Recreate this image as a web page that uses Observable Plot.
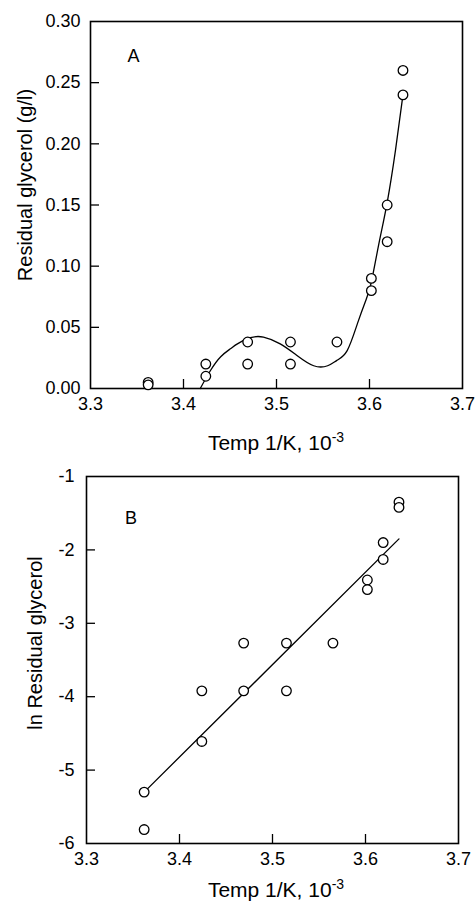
<!DOCTYPE html>
<html>
<head>
<meta charset="utf-8">
<script src="https://cdn.jsdelivr.net/npm/d3@7"></script>
<script src="https://cdn.jsdelivr.net/npm/@observablehq/plot@0.6"></script>
<style>
  html, body { margin: 0; padding: 0; background: #fff; }
  #wrap { position: relative; width: 476px; height: 911px; overflow: hidden; }
</style>
</head>
<body>
<div id="wrap"></div>
<script>
// ---- Data ----
const tempX = [3.362, 3.362, 3.424, 3.424, 3.469, 3.469, 3.515, 3.515, 3.565, 3.602, 3.602, 3.619, 3.619, 3.636, 3.636];
const glycerolA = [0.005, 0.003, 0.020, 0.010, 0.038, 0.020, 0.038, 0.020, 0.038, 0.090, 0.080, 0.150, 0.120, 0.260, 0.240];
const lnGlycerolB = [-5.30, -5.81, -3.92, -4.61, -3.27, -3.92, -3.27, -3.92, -3.27, -2.41, -2.54, -1.90, -2.13, -1.35, -1.42];

// fitted curve in panel A (sampled from the drawn curve)
const fitAX = [3.418, 3.429, 3.440, 3.4505, 3.458, 3.472, 3.486, 3.504, 3.522, 3.540, 3.555, 3.565, 3.576, 3.587, 3.596, 3.602, 3.610, 3.619, 3.628, 3.636];
const fitAY = [0.000, 0.0147, 0.026, 0.0325, 0.0365, 0.0415, 0.042, 0.0365, 0.027, 0.0186, 0.0186, 0.023, 0.031, 0.053, 0.072, 0.087, 0.118, 0.152, 0.195, 0.240];

// regression line in panel B (end points)
const fitBX = [3.362, 3.636];
const fitBY = [-5.30, -1.85];

// ticks
const xTickLabels = [3.3, 3.4, 3.5, 3.6, 3.7];
const xInnerTicks = [3.4, 3.5, 3.6];
const yTickLabelsA = [0, 0.05, 0.10, 0.15, 0.20, 0.25, 0.30];
const yInnerTicksA = [0.05, 0.10, 0.15, 0.20, 0.25];
const yTickLabelsB = [-6, -5, -4, -3, -2, -1];
const yInnerTicksB = [-5, -4, -3, -2];

const xTitle = "Temp 1/K, 10";
const xTitleSup = "-3";
const yTitleA = "Residual glycerol (g/l)";
const yTitleB = "ln Residual glycerol";

// ---- Build tables ----
const pointsA = tempX.map((x, i) => ({x, y: glycerolA[i]}));
const pointsB = tempX.map((x, i) => ({x, y: lnGlycerolB[i]}));
const curveA = fitAX.map((x, i) => ({x, y: fitAY[i]}));
const lineB = fitBX.map((x, i) => ({x, y: fitBY[i]}));

const FONT = "'Liberation Sans', Arial, Helvetica, sans-serif";
const W = 476;
const TICK = 9;

function panel({width, height, mt, mb, ml, mr, yDomain, yLabels, yInner, yFmt, points, curve, curveType, letter, letterDx, letterDy, yPad}) {
  const innerW = width - ml - mr;
  const innerH = height - mt - mb;
  return Plot.plot({
    width, height,
    marginTop: mt, marginBottom: mb, marginLeft: ml, marginRight: mr,
    style: {fontFamily: FONT, color: "black", background: "white", overflow: "visible"},
    x: {domain: [3.3, 3.7], label: null},
    y: {domain: yDomain, label: null},
    marks: [
      Plot.frame({stroke: "black", strokeWidth: 1.6}),
      Plot.tickX(xInnerTicks, {x: d => d, insetTop: innerH - TICK, stroke: "black", strokeWidth: 1.3}),
      Plot.tickY(yInner, {y: d => d, insetRight: innerW - TICK, stroke: "black", strokeWidth: 1.3}),
      Plot.axisX({ticks: xTickLabels, tickFormat: d3.format(".1f"), tickSize: 0, tickPadding: 9, fontSize: 18, label: null}),
      Plot.axisY({ticks: yLabels, tickFormat: yFmt, tickSize: 0, tickPadding: yPad, fontSize: 18, label: null}),
      Plot.line(curve, {x: "x", y: "y", curve: curveType, stroke: "black", strokeWidth: 1.3}),
      Plot.dot(points, {x: "x", y: "y", r: 4.8, stroke: "black", fill: "white", strokeWidth: 1.3}),
      Plot.text([letter], {frameAnchor: "top-left", dx: letterDx, dy: letterDy, text: d => d, fontSize: 18, textAnchor: "middle", lineAnchor: "middle", fill: "black"})
    ]
  });
}

const wrap = document.getElementById("wrap");

// Panel A: frame x 90..462, y 21..388
const svgA = panel({
  width: W, height: 460, mt: 21, mb: 72, ml: 90, mr: 14,
  yDomain: [0, 0.30], yLabels: yTickLabelsA, yInner: yInnerTicksA, yFmt: d3.format(".2f"),
  points: pointsA, curve: curveA, curveType: "natural",
  letter: "A", letterDx: 43, letterDy: 35, yPad: 10
});
svgA.style.position = "absolute"; svgA.style.top = "0px"; svgA.style.left = "0px";
wrap.appendChild(svgA);

// Panel B: frame x 86..458, y 476..843 (svg top at 460)
const svgB = panel({
  width: W, height: 451, mt: 16, mb: 68, ml: 86, mr: 18,
  yDomain: [-6, -1], yLabels: yTickLabelsB, yInner: yInnerTicksB, yFmt: d => String(d),
  points: pointsB, curve: lineB, curveType: "linear",
  letter: "B", letterDx: 44.5, letterDy: 41.5, yPad: 12
});
svgB.style.position = "absolute"; svgB.style.top = "460px"; svgB.style.left = "0px";
wrap.appendChild(svgB);

// Axis titles
function addTitles(svg, yTitle, xCenter, xBase, yCx, yCy) {
  const s = d3.select(svg);
  const t = s.append("text")
    .attr("x", xCenter).attr("y", xBase)
    .attr("text-anchor", "middle")
    .attr("font-family", FONT).attr("font-size", 21).attr("fill", "black");
  t.append("tspan").text(xTitle);
  t.append("tspan").attr("font-size", 14).attr("dy", -8).text(xTitleSup);
  s.append("text")
    .attr("transform", `translate(${yCx},${yCy}) rotate(-90)`)
    .attr("text-anchor", "middle")
    .attr("font-family", FONT).attr("font-size", 20).attr("fill", "black")
    .text(yTitle);
}
addTitles(svgA, yTitleA, 276, 450, 32, 185);
addTitles(svgB, yTitleB, 276, 437, 42, 183);
</script>
</body>
</html>
